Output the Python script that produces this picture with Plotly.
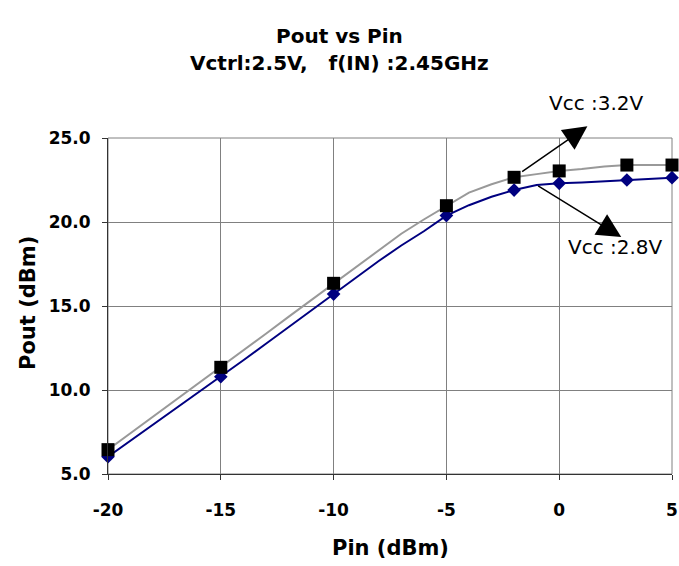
import plotly.graph_objects as go

# ---- data ----
pin_line = [-20, -19, -18, -17, -16, -15, -14, -13, -12, -11, -10, -9, -8, -7, -6,
            -5, -4, -3, -2, -1, 0, 1, 2, 3, 4, 5]
pout_32_line = [6.45, 7.43, 8.41, 9.39, 10.37, 11.35, 12.35, 13.35, 14.35, 15.35, 16.35,
                17.35, 18.35, 19.3, 20.15, 20.97, 21.75, 22.25, 22.66, 22.85, 23.04,
                23.15, 23.3, 23.39, 23.39, 23.39]
pout_28_line = [6.03, 6.98, 7.93, 8.88, 9.83, 10.79, 11.77, 12.75, 13.73, 14.71, 15.71,
                16.7, 17.68, 18.6, 19.45, 20.38, 21.0, 21.5, 21.9, 22.2, 22.3,
                22.35, 22.42, 22.5, 22.6, 22.64]

pin_marks = [-20, -15, -10, -5, -2, 0, 3, 5]
pout_32_marks = [6.45, 11.35, 16.35, 20.97, 22.66, 23.04, 23.39, 23.39]
pout_28_marks = [6.03, 10.79, 15.71, 20.38, 21.9, 22.3, 22.5, 22.64]

x_ticks = [-20, -15, -10, -5, 0, 5]
y_ticks = [5, 10, 15, 20, 25]
y_tick_labels = ["5.0", "10.0", "15.0", "20.0", "25.0"]

BOLD = "DejaVu Sans"
GRID = "#808080"

fig = go.Figure()

fig.add_trace(go.Scatter(x=pin_line, y=pout_28_line, mode="lines",
                         line=dict(color="#000080", width=2), cliponaxis=False,
                         name="Vcc 2.8V"))
fig.add_trace(go.Scatter(x=pin_marks, y=pout_28_marks, mode="markers",
                         marker=dict(symbol="diamond", size=10.5, color="#000080"),
                         cliponaxis=False, name="Vcc 2.8V pts"))
fig.add_trace(go.Scatter(x=pin_line, y=pout_32_line, mode="lines",
                         line=dict(color="#999999", width=2), cliponaxis=False,
                         name="Vcc 3.2V"))
fig.add_trace(go.Scatter(x=pin_marks, y=pout_32_marks, mode="markers",
                         marker=dict(symbol="square", size=13, color="#000000"),
                         cliponaxis=False, name="Vcc 3.2V pts"))

fig.update_layout(
    width=679, height=566, autosize=False,
    margin=dict(l=108, r=7, t=138, b=92, autoexpand=False),
    paper_bgcolor="white", plot_bgcolor="white",
    showlegend=False,
    font=dict(family=BOLD, color="black"),
)

fig.update_xaxes(range=[-20, 5], tickvals=x_ticks, ticktext=[str(v) for v in x_ticks],
                 showgrid=True, gridcolor=GRID, gridwidth=1, zeroline=False,
                 showline=True, linecolor="#333333", linewidth=1,
                 ticks="outside", ticklen=5, tickcolor="#333333", automargin=False,
                 tickfont=dict(family=BOLD, size=17, color="black", weight="bold"),
                 ticklabelstandoff=16)
fig.update_yaxes(range=[5, 25], tickvals=y_ticks, ticktext=y_tick_labels,
                 showgrid=True, gridcolor=GRID, gridwidth=1, zeroline=False,
                 showline=True, linecolor="#333333", linewidth=1,
                 ticks="outside", ticklen=5, tickcolor="#333333", automargin=False,
                 tickfont=dict(family=BOLD, size=17, color="black", weight="bold"),
                 ticklabelstandoff=8)

# plot frame (top / right edges in grid colour)
fig.add_shape(type="rect", xref="paper", yref="paper", x0=0, y0=0, x1=1, y1=1,
              line=dict(color=GRID, width=1), layer="below")

C = dict(xanchor="center", yanchor="middle", showarrow=False, xref="paper", yref="paper")
ann = []
# titles
ann.append(dict(text="Pout vs Pin", x=0.41, y=1.3036,
                font=dict(family=BOLD, size=20, weight="bold"), **C))
ann.append(dict(text="Vctrl:2.5V,\u00a0\u00a0\u00a0f(IN) :2.45GHz",
                x=0.41, y=1.2232, font=dict(family=BOLD, size=20, weight="bold"), **C))
ann.append(dict(text="Pin (dBm)", x=0.5, y=-0.22,
                font=dict(family=BOLD, size=21, weight="bold"), **C))
ann.append(dict(text="Pout (dBm)", x=-0.143, y=0.51, textangle=-90,
                font=dict(family=BOLD, size=21, weight="bold"), **C))
# series labels
ann.append(dict(text="Vcc :3.2V", x=0.867, y=1.104, font=dict(family=BOLD, size=20), **C))
ann.append(dict(text="Vcc :2.8V", x=0.899, y=0.676, font=dict(family=BOLD, size=20), **C))
# arrows
ann.append(dict(text="", x=1.25, y=25.7, xref="x", yref="y",
                ax=pin_marks[4], ay=pout_32_marks[4], axref="x", ayref="y",
                showarrow=True, arrowhead=2, arrowsize=3.2, arrowwidth=1.5,
                arrowcolor="black", standoff=0, startstandoff=8))
ann.append(dict(text="", x=2.75, y=19.1, xref="x", yref="y",
                ax=pin_line[19], ay=pout_28_line[19], axref="x", ayref="y",
                showarrow=True, arrowhead=2, arrowsize=3.2, arrowwidth=1.5,
                arrowcolor="black", standoff=0, startstandoff=0))
fig.update_layout(annotations=ann)

fig.write_html(
    "out.html",
    config={"displayModeBar": False},
    post_script="document.body.style.margin='0';document.body.style.overflow='hidden';",
)
